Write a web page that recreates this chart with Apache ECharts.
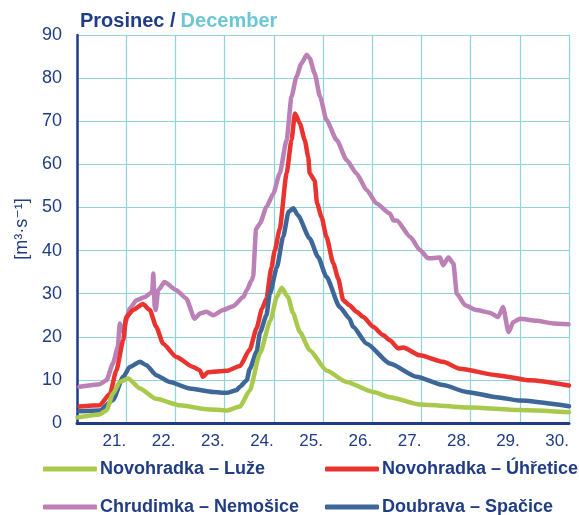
<!DOCTYPE html>
<html>
<head>
<meta charset="utf-8">
<script src="https://cdn.jsdelivr.net/npm/echarts@6/dist/echarts.min.js"></script>
<style>
html,body{margin:0;padding:0;background:#fff;}
#c{width:579px;height:515px;}
</style>
</head>
<body>
<div id="c"></div>
<script>
// x values: days since start of 21 December (0..10)
var dayLabels = ['21.', '22.', '23.', '24.', '25.', '26.', '27.', '28.', '29.', '30.'];
var yTicks = [0, 10, 20, 30, 40, 50, 60, 70, 80, 90];

var seriesNames = ['Novohradka – Luže', 'Novohradka – Úhřetice', 'Chrudimka – Nemošice', 'Doubrava – Spačice'];

var lazeT = [0.01, 0.46, 0.60, 0.73, 0.87, 1.04, 1.28, 1.61, 2.09, 2.63, 3.04, 3.31, 3.51, 3.72, 3.93, 4.06, 4.16, 4.29, 4.39, 4.53, 4.73, 5.07, 5.48, 6.02, 6.36, 6.97, 7.99, 9.00, 10.0];
var lazeQ = [1.3, 2.0, 2.9, 6.8, 9.5, 10.3, 8.0, 5.6, 4.1, 3.2, 2.9, 3.8, 7.5, 16.2, 23.8, 29.2, 31.4, 29.2, 25.5, 21.1, 16.9, 12.2, 9.5, 7.2, 6.0, 4.3, 3.6, 3.0, 2.5];

var uhreticeT = [0.05, 0.46, 0.67, 0.80, 0.94, 1.00, 1.14, 1.34, 1.48, 1.61, 1.75, 2.02, 2.36, 2.50, 2.56, 2.66, 3.04, 3.31, 3.51, 3.65, 3.76, 3.85, 3.95, 4.02, 4.12, 4.26, 4.36, 4.43, 4.53, 4.63, 4.70, 4.73, 4.83, 4.88, 4.97, 5.07, 5.21, 5.31, 5.41, 5.54, 5.68, 5.82, 6.02, 6.22, 6.36, 6.53, 6.63, 6.97, 7.44, 7.78, 8.53, 9.21, 10.0];
var uhreticeQ = [3.8, 4.1, 6.8, 12.2, 19.2, 24.6, 26.2, 27.6, 26.2, 22.3, 18.4, 15.3, 13.0, 12.2, 10.7, 11.8, 12.1, 13.2, 17.0, 22.0, 26.5, 28.8, 36.0, 40.0, 45.0, 57.9, 65.6, 71.8, 69.5, 65.6, 61.7, 57.9, 56.3, 50.9, 47.8, 43.2, 37.0, 33.5, 28.5, 27.3, 25.8, 24.6, 22.3, 20.4, 19.2, 17.3, 17.5, 15.7, 14.2, 12.6, 11.1, 9.9, 8.7];

var nemosiceT = [0.05, 0.46, 0.60, 0.73, 0.83, 0.87, 0.94, 1.00, 1.07, 1.21, 1.38, 1.48, 1.53, 1.55, 1.58, 1.60, 1.65, 1.78, 2.02, 2.22, 2.39, 2.50, 2.63, 2.77, 2.97, 3.17, 3.38, 3.45, 3.55, 3.58, 3.64, 3.72, 3.85, 3.99, 4.12, 4.26, 4.36, 4.46, 4.56, 4.67, 4.73, 4.83, 4.94, 5.07, 5.28, 5.48, 5.68, 5.89, 6.09, 6.36, 6.43, 6.50, 6.77, 6.97, 7.14, 7.38, 7.44, 7.55, 7.65, 7.72, 7.89, 8.12, 8.39, 8.56, 8.66, 8.77, 8.87, 9.00, 9.34, 9.68, 9.99];
var nemosiceQ = [8.4, 9.0, 9.9, 13.8, 17.6, 23.1, 21.1, 23.8, 26.5, 28.5, 29.2, 30.0, 30.5, 34.7, 27.0, 26.2, 30.8, 32.7, 30.8, 28.9, 24.2, 25.4, 25.8, 25.0, 26.2, 27.1, 29.2, 30.8, 33.1, 34.0, 45.0, 46.3, 50.1, 53.2, 57.9, 65.6, 75.7, 80.3, 83.4, 85.4, 84.6, 81.1, 75.7, 70.3, 65.6, 61.0, 57.9, 54.0, 50.9, 48.6, 47.0, 47.0, 43.2, 40.1, 38.2, 38.4, 36.6, 38.4, 37.0, 30.0, 27.3, 26.2, 25.6, 24.6, 26.9, 21.1, 23.4, 24.2, 23.7, 23.1, 22.9];

var spaciceT = [0.05, 0.46, 0.73, 0.94, 1.07, 1.28, 1.41, 1.61, 1.89, 2.29, 2.77, 3.04, 3.24, 3.31, 3.45, 3.51, 3.65, 3.72, 3.85, 3.92, 4.06, 4.19, 4.30, 4.40, 4.49, 4.73, 4.90, 5.07, 5.34, 5.54, 5.61, 5.89, 6.36, 6.90, 7.44, 7.92, 8.53, 9.00, 10.0];
var spaciceQ = [2.7, 2.9, 5.3, 10.7, 13.0, 14.2, 13.4, 11.1, 9.5, 8.0, 7.2, 7.0, 7.6, 8.4, 9.9, 12.5, 16.5, 21.0, 25.0, 30.0, 36.0, 43.2, 49.0, 49.8, 48.2, 42.8, 38.5, 33.9, 26.9, 24.2, 22.3, 18.4, 13.8, 10.7, 8.8, 7.2, 6.0, 5.2, 3.9];

var colors = ['#a8c94c', '#e8332e', '#bb80b6', '#3d6699'];
var navy = '#1f3c85';
var font = 'Liberation Sans, Arial, sans-serif';

function pairs(t, q) { return t.map(function (v, i) { return [v, q[i]]; }); }

var chart = echarts.init(document.getElementById('c'), null, {renderer: 'canvas'});

var lineSeries = function (idx, t, q, z) {
  return {
    name: seriesNames[idx],
    type: 'line',
    data: pairs(t, q),
    showSymbol: false,
    symbol: 'none',
    smooth: 0.2,
    smoothMonotone: 'x',
    z: z,
    lineStyle: {color: colors[idx], width: 4.5, cap: 'round', join: 'round'},
    itemStyle: {color: colors[idx]},
    animation: false
  };
};

function legendItem(idx, left, top) {
  return {
    orient: 'horizontal',
    icon: 'roundRect',
    itemWidth: 54,
    itemHeight: 5,
    left: left,
    top: top,
    padding: 0,
    data: [seriesNames[idx]],
    textStyle: {color: navy, fontSize: 18, fontWeight: 'bold', fontFamily: font, padding: [0, 0, 0, -2]},
    selectedMode: false
  };
}

chart.setOption({
  backgroundColor: '#fff',
  animation: false,
  title: {
    text: '{a|Prosinec /} {b|December}',
    left: 75,
    top: 6,
    textStyle: {
      fontFamily: font,
      rich: {
        a: {color: navy, fontSize: 20, fontWeight: 'bold', fontFamily: font},
        b: {color: '#6cc7d5', fontSize: 20, fontWeight: 'bold', fontFamily: font}
      }
    }
  },
  legend: [
    legendItem(0, 43, 460),
    legendItem(1, 325, 460),
    legendItem(2, 43, 498),
    legendItem(3, 325, 498)
  ],
  grid: {left: 77, right: 10, top: 35, bottom: 92, containLabel: false},
  xAxis: {
    type: 'value',
    min: 0,
    max: 10,
    interval: 1,
    axisLine: {show: true, onZero: false, lineStyle: {color: navy, width: 3}},
    axisTick: {show: false},
    splitLine: {show: true, lineStyle: {color: '#8fd3dd', width: 1.2}},
    axisLabel: {
      color: navy,
      fontSize: 17,
      fontFamily: font,
      margin: 10,
      align: 'right',
      showMinLabel: true,
      showMaxLabel: true,
      formatter: function (v) { return v >= 1 ? dayLabels[Math.round(v) - 1] : ''; }
    }
  },
  yAxis: {
    type: 'value',
    min: yTicks[0],
    max: yTicks[yTicks.length - 1],
    interval: 10,
    name: '[m³·s⁻¹]',
    nameLocation: 'middle',
    nameGap: 46,
    nameRotate: 90,
    nameTextStyle: {color: navy, fontSize: 18, fontFamily: 'Liberation Sans, DejaVu Sans, sans-serif'},
    axisLine: {show: true, lineStyle: {color: navy, width: 2.5}},
    axisTick: {show: false},
    splitLine: {show: true, lineStyle: {color: '#8fd3dd', width: 1.2}},
    axisLabel: {
      color: navy,
      fontSize: 18,
      fontFamily: font,
      margin: 15
    }
  },
  series: [
    lineSeries(2, nemosiceT, nemosiceQ, 2),
    lineSeries(1, uhreticeT, uhreticeQ, 3),
    lineSeries(3, spaciceT, spaciceQ, 4),
    lineSeries(0, lazeT, lazeQ, 5)
  ]
});
</script>
</body>
</html>
